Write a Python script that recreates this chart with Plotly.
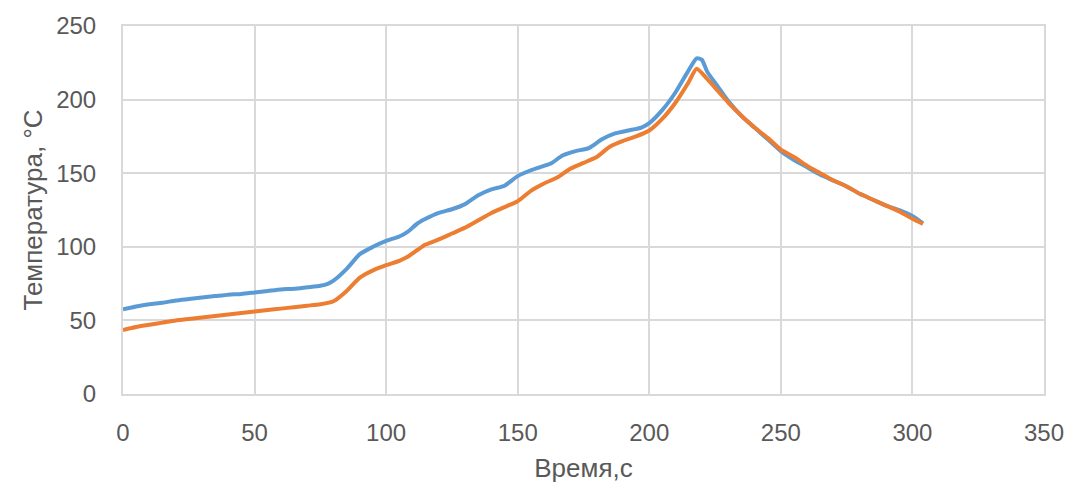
import plotly.graph_objects as go

time_blue = [0, 5, 10, 15, 20, 25, 30, 35, 40, 45, 50, 55, 60, 65, 70, 75, 78, 80, 85, 90, 95, 100, 105, 108, 112,
             115, 120, 125, 130, 135, 140, 145, 150, 155, 160, 163, 167, 172, 177, 182, 187, 192, 197, 200, 205,
             210, 215, 218, 220, 222, 226, 230, 235, 240, 245, 250, 255, 260, 265, 270, 275, 280, 285, 290, 295,
             300, 304]
temp_blue = [57.5, 59.5, 61, 62, 63.5, 64.5, 65.5, 66.5, 67.5, 68, 69, 70, 71, 71.5, 72.5, 73.5, 75, 77, 85, 95,
             100, 104, 107, 110, 116, 119, 123, 125.5, 129, 135, 139, 141.5, 148, 152, 155, 157, 162, 165, 167,
             173, 177, 179, 181, 184, 193, 205, 220, 228, 227, 219, 209, 199, 189, 181, 173, 165, 159, 154, 149,
             145, 141, 136, 132, 128, 125, 121, 116]

time_orange = [0, 5, 10, 15, 20, 25, 30, 35, 40, 45, 50, 55, 60, 65, 70, 75, 80, 85, 90, 95, 100, 105, 108, 112,
               115, 120, 125, 130, 135, 140, 145, 150, 155, 160, 165, 170, 175, 180, 185, 190, 195, 200, 205, 210,
               215, 218, 222, 226, 230, 235, 240, 245, 250, 255, 260, 265, 270, 275, 280, 285, 290, 295, 300, 304]
temp_orange = [43.5, 45.5, 47, 48.5, 50, 51, 52, 53, 54, 55, 56, 57, 58, 59, 60, 61, 63, 70, 79, 84, 87.5, 90.5,
               93, 98, 101.5, 105, 109, 113, 118, 123, 127, 131, 138, 143, 147, 153, 157, 161, 168, 172, 175, 179,
               187, 198, 212, 221, 214, 206, 198, 189, 181, 174, 166, 161, 155, 150, 145, 141, 136, 132, 128, 124,
               119, 115.5]

x_ticks = [0, 50, 100, 150, 200, 250, 300, 350]
y_ticks = [0, 50, 100, 150, 200, 250]

fig = go.Figure()
fig.add_trace(go.Scatter(x=time_blue, y=temp_blue, mode="lines",
                         line=dict(color="#5B9BD5", width=4, shape="spline", smoothing=0.6),
                         showlegend=False))
fig.add_trace(go.Scatter(x=time_orange, y=temp_orange, mode="lines",
                         line=dict(color="#ED7D31", width=4, shape="spline", smoothing=0.6),
                         showlegend=False))

font_family = "Liberation Sans, Arial, sans-serif"
fig.update_layout(
    width=1076, height=493,
    margin=dict(l=123, r=25, t=22, b=99),
    plot_bgcolor="white", paper_bgcolor="white",
    font=dict(family=font_family, size=24, color="#595959"),
    xaxis=dict(range=[0, 350], tickvals=x_ticks, showgrid=True, gridcolor="#D9D9D9", gridwidth=2,
               zeroline=False, showline=True, linecolor="#D9D9D9", linewidth=2, mirror=True,
               ticks="", ticklabelstandoff=16,
               title=dict(text="Время,с", font=dict(size=26, color="#595959"), standoff=14)),
    yaxis=dict(range=[0, 250], tickvals=y_ticks, showgrid=True, gridcolor="#D9D9D9", gridwidth=2,
               zeroline=False, showline=True, linecolor="#D9D9D9", linewidth=2, mirror=True,
               ticks="", ticklabelstandoff=20,
               title=dict(text="Температура, °C", font=dict(size=26, color="#595959"), standoff=6)),
)

fig.write_html("out.html")
